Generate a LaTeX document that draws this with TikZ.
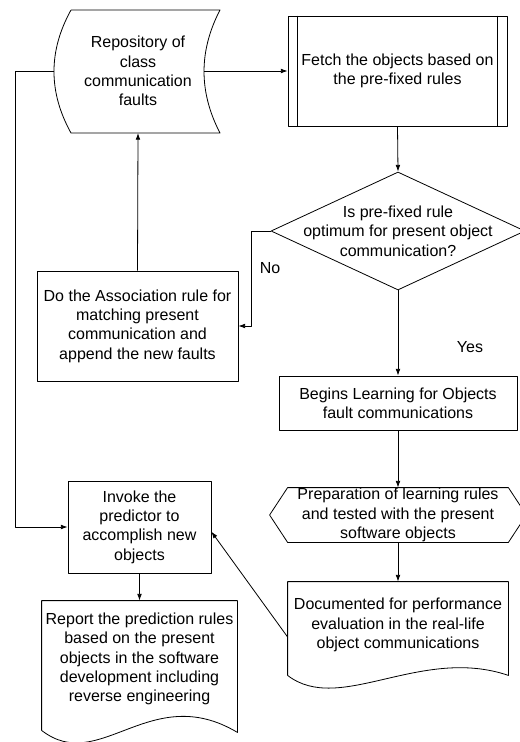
\documentclass[tikz,border=0pt]{standalone}
\usepackage{fontspec}
\setmainfont{Liberation Sans}
\usetikzlibrary{shapes.geometric,arrows.meta}
\begin{document}
\begin{tikzpicture}[x=0.75pt, y=-0.75pt, line width=0.6pt, line join=round, font=\fontsize{12}{14.5}\selectfont, >={Latex[length=5pt,width=3.5pt]},
	box/.style={draw, rectangle, align=center, inner sep=0pt},
	txt/.style={align=center, inner sep=0pt}]
	\useasboundingbox (0,0) rectangle (519,742);
	% repository (stored data)
	\node[txt] (repo) at (138,71) {Repository of\\class\\communication\\faults};
	\draw ([shift={(-67,-61)}]repo.center) -- ([shift={(82,-61)}]repo.center) .. controls +(-21.3,41) and +(-21.3,-41) .. ([shift={(82,62)}]repo.center) -- ([shift={(-67,62)}]repo.center) .. controls +(-22.7,-41) and +(-22.7,41) .. ([shift={(-67,-61)}]repo.center);
	\coordinate (repoW) at ([shift={(-84,0)}]repo.center);
	\coordinate (repoE) at ([shift={(66,0)}]repo.center);
	\coordinate (repoS) at ([shift={(0,62)}]repo.center);
	% predefined process
	\node[box, minimum width=164.25pt, minimum height=82.5pt] (fetch) at (397.5,71) {Fetch the objects based on\\the pre-fixed rules};
	\draw ([xshift=7.5pt]fetch.north west) -- ([xshift=7.5pt]fetch.south west)
	([xshift=-7.5pt]fetch.north east) -- ([xshift=-7.5pt]fetch.south east);
	% decision
	\node[draw, diamond, minimum width=190.5pt, minimum height=88.5pt, inner sep=0pt] (dec) at (398,231) {};
	\node[txt] (dectext) at (dec.center) {Is pre-fixed rule\\optimum for present object\\communication?};
	\node[box, minimum width=150.75pt, minimum height=82.5pt] (assoc) at (137.5,326) {Do the Association rule for\\matching present\\communication and\\append the new faults};
	\node[box, minimum width=178.5pt, minimum height=40.5pt] (begins) at (398,403) {Begins Learning for Objects\\fault communications};
	% preparation (hexagon)
	\node[txt, minimum width=165pt, minimum height=40.5pt] (prep) at (398,515) {Preparation of learning rules\\and tested with the present\\software objects};
	\draw (prep.north west) -- (prep.north east) -- ([xshift=13.5pt]prep.east) -- (prep.south east) -- (prep.south west) -- ([xshift=-13.5pt]prep.west) -- cycle;
	% documents
	\node[txt, minimum width=165pt, minimum height=64.5pt] (doc) at (398,625) {Documented for performance\\evaluation in the real-life\\object communications};
	\draw ([yshift=-5.25pt]doc.south west) -- (doc.north west) -- (doc.north east) -- ([yshift=-5.25pt]doc.south east) .. controls +(-88,-30) and +(52,40) .. ([yshift=-5.25pt]doc.south west);
	\node[box, minimum width=107.25pt, minimum height=69pt] (invoke) at (139.5,527) {Invoke the\\predictor to\\accomplish new\\objects};
	\node[txt, minimum width=146.25pt, minimum height=87pt] (report) at (139.5,659) {Report the prediction rules\\based on the present\\objects in the software\\development including\\reverse engineering};
	\draw ([yshift=-9.75pt]report.south west) -- (report.north west) -- (report.north east) -- ([yshift=-11.25pt]report.south east) .. controls +(-87,-52) and +(58,45) .. ([yshift=-9.75pt]report.south west);
	% connectors
	\draw[->] (repoE) -- (fetch.west);
	\draw[->] (fetch.south) -- (dec.north);
	\draw[->] (dec.west) -- ++(-19,0) |- (assoc.east);
	\draw[->] (assoc.north) -- (repoS);
	\draw[->] (dec.south) -- (begins.north);
	\draw[->] (begins.south) -- (prep.north);
	\draw[->] (prep.south) -- (doc.north);
	\draw[->] ([yshift=-9pt]doc.west) -- ([yshift=-3.5pt]invoke.east);
	\draw[->] (repoW) -- ++(-39,0) |- (invoke.west);
	\draw[->] (invoke.south) -- (report.north);
	\node (no) at (270,268) {No};
	\node (yes) at (470,347) {Yes};
\end{tikzpicture}
\end{document}
